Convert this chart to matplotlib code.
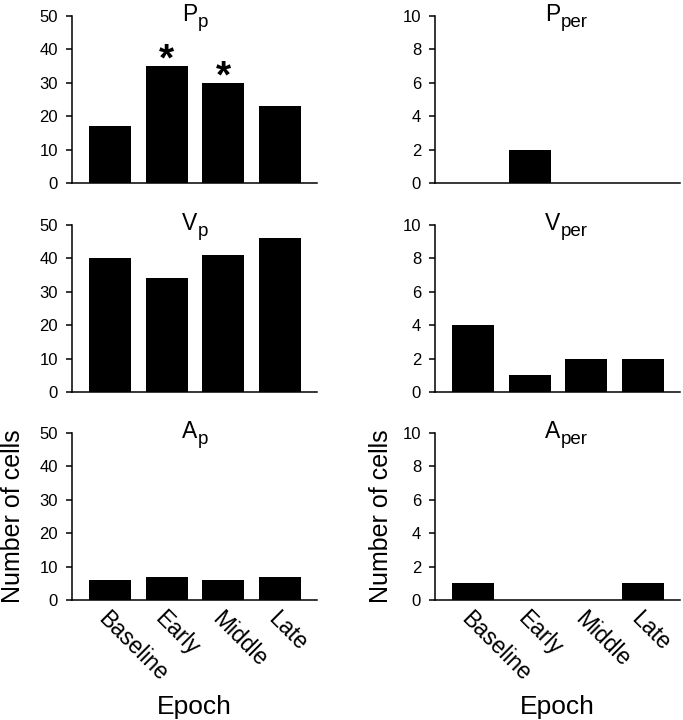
import matplotlib
matplotlib.use("Agg")
import matplotlib.pyplot as plt
from matplotlib.transforms import offset_copy
import numpy as np

epochs = ["Baseline", "Early", "Middle", "Late"]
p_p = [17, 35, 30, 23]
p_per = [0, 2, 0, 0]
v_p = [40, 34, 41, 46]
v_per = [4, 1, 2, 2]
a_p = [6, 7, 6, 7]
a_per = [1, 0, 0, 1]
# significant epochs marked with an asterisk (P_p panel only)
star_p_p = [False, True, True, False]

plt.rcParams['font.family'] = ['Liberation Sans', 'DejaVu Sans']

fig = plt.figure(figsize=(6.83, 7.2), dpi=100)

col_left = [72 / 683, 435 / 683]
ax_w = 245 / 683
row_bottom = [1 - 183 / 720, 1 - 392 / 720, 1 - 600 / 720]
ax_h = 167 / 720

panels = [
    (p_p, 50, "P", "p", star_p_p),
    (p_per, 10, "P", "per", None),
    (v_p, 50, "V", "p", None),
    (v_per, 10, "V", "per", None),
    (a_p, 50, "A", "p", None),
    (a_per, 10, "A", "per", None),
]

x = np.arange(len(epochs))
title_size = 16.5
sub_size = 13.5

for i, (vals, ymax, letter, sub, stars) in enumerate(panels):
    r, c = divmod(i, 2)
    ax = fig.add_axes([col_left[c], row_bottom[r], ax_w, ax_h])
    ax.bar(x, vals, width=0.74, color="black", linewidth=0)
    ax.set_xlim(-0.67, 3.65)
    ax.set_ylim(0, ymax)
    ax.set_yticks(np.linspace(0, ymax, 6))
    ax.spines["top"].set_visible(False)
    ax.spines["right"].set_visible(False)
    ax.spines["left"].set_linewidth(1.1)
    ax.spines["bottom"].set_linewidth(1.1)
    ax.tick_params(axis="y", direction="out", length=4, width=1.1, labelsize=12, pad=6)
    ax.tick_params(axis="x", length=0)
    ax.set_xticks(x)

    # panel title: capital letter + subscript
    ax.text(0.45, 0.97, letter, transform=ax.transAxes, ha="left",
            va="baseline", fontsize=title_size)
    sub_tr = offset_copy(ax.transAxes, fig=fig, x=0.667 * title_size,
                         y=-4.3, units="points")
    ax.text(0.45, 0.97, sub, transform=sub_tr, ha="left", va="baseline",
            fontsize=sub_size)

    if stars is not None:
        for xi, v, s in zip(x, vals, stars):
            if s:
                ax.text(xi, v + 1.7, "*", ha="center", va="center",
                        fontsize=28, fontweight="bold")

    if r == 2:
        ax.set_xticklabels(epochs, rotation=-45, ha="left", va="top",
                           rotation_mode="anchor", fontsize=16.5)
        ax.tick_params(axis="x", pad=5)
        ax.set_xlabel("Epoch", fontsize=19, va="baseline")
        ax.xaxis.set_label_coords(0.5, -0.68)
        ax.set_ylabel("Number of cells", fontsize=18)
        ax.yaxis.set_label_coords(-0.192 if c == 0 else -0.171, 0.5)
    else:
        ax.set_xticklabels([])

fig.savefig("out.png", dpi=100)
